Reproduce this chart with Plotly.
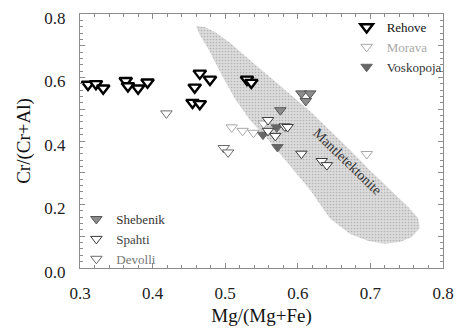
import plotly.graph_objects as go

# Mantle tectonite field outline, Mg/(Mg+Fe) vs Cr/(Cr+Al)
field_x = [0.460, 0.472, 0.486, 0.507, 0.534, 0.562, 0.589, 0.617, 0.644, 0.672, 0.699, 0.727,
           0.752, 0.766, 0.768, 0.757, 0.741, 0.720, 0.697, 0.672, 0.644, 0.617, 0.589, 0.562,
           0.534, 0.513, 0.493, 0.476, 0.465, 0.460]
field_y = [0.762, 0.759, 0.743, 0.709, 0.655, 0.602, 0.548, 0.494, 0.435, 0.372, 0.309, 0.246,
           0.192, 0.157, 0.126, 0.098, 0.082, 0.076, 0.085, 0.107, 0.157, 0.246, 0.324, 0.397,
           0.466, 0.535, 0.617, 0.693, 0.734, 0.762]

rehove_x = [0.311, 0.322, 0.332, 0.363, 0.366, 0.380, 0.393, 0.465, 0.479, 0.458, 0.455, 0.465, 0.530, 0.536]
rehove_y = [0.578, 0.580, 0.566, 0.590, 0.573, 0.566, 0.585, 0.613, 0.594, 0.569, 0.521, 0.517, 0.594, 0.584]

morava_x = [0.509, 0.524, 0.539, 0.553, 0.695]
morava_y = [0.443, 0.432, 0.426, 0.455, 0.359]

voskopoja_x = [0.552, 0.571, 0.572]
voskopoja_y = [0.420, 0.443, 0.381]

shebenik_x = [0.605, 0.617, 0.611, 0.576]
shebenik_y = [0.550, 0.550, 0.526, 0.497]

spahti_x = [0.559, 0.559, 0.569, 0.582, 0.586, 0.605, 0.633, 0.640]
spahti_y = [0.466, 0.432, 0.416, 0.446, 0.444, 0.360, 0.337, 0.324]

devolli_x = [0.419, 0.498, 0.504]
devolli_y = [0.487, 0.378, 0.364]

SERIF = "Liberation Serif, Times New Roman, DejaVu Serif, serif"

fig = go.Figure()

fig.add_trace(go.Scatter(
    x=field_x, y=field_y, mode="lines", fill="toself",
    line=dict(width=0, color="rgba(0,0,0,0)"),
    fillcolor="#d8d8d8",
    fillpattern=dict(shape=".", fgcolor="#8a8a8a", bgcolor="#dcdcdc", size=3, solidity=0.25),
    showlegend=False, hoverinfo="skip"))


def series(name, xs, ys, fill, edge, width, size, legend, tcolor):
    fig.add_trace(go.Scatter(
        x=xs, y=ys, mode="markers", legend=legend,
        name=f"<span style='color:{tcolor}'>{name}</span>",
        marker=dict(symbol="triangle-down", size=size, color=fill,
                    line=dict(color=edge, width=width))))


series("Rehove", rehove_x, rehove_y, "white", "#000000", 2.4, 11, "legend", "#111111")
series("Morava", morava_x, morava_y, "white", "#a8a8a8", 1, 10, "legend", "#a8a8a8")
series("Voskopoja", voskopoja_x, voskopoja_y, "#666666", "#666666", 1, 10, "legend", "#333333")
series("Shebenik", shebenik_x, shebenik_y, "#8c8c8c", "#555555", 1, 10, "legend2", "#333333")
series("Spahti", spahti_x, spahti_y, "white", "#3a3a3a", 1, 10, "legend2", "#444444")
series("Devolli", devolli_x, devolli_y, "white", "#6a6a6a", 1, 10, "legend2", "#777777")

fig.add_annotation(x=0.668, y=0.335, text="Mantletektonite", showarrow=False,
                   textangle=44, font=dict(family=SERIF, size=14, color="#333"))

tick_font = dict(family=SERIF, size=17, color="#222")
axis_common = dict(showgrid=False, zeroline=False, showline=True, linecolor="#8c8c8c",
                   linewidth=1, mirror="allticks", ticks="inside", ticklen=5,
                   tickcolor="#8c8c8c", tickfont=tick_font)

xt = [0.3, 0.4, 0.5, 0.6, 0.7, 0.8]
fig.update_xaxes(range=[0.3, 0.8], tickmode="array", tickvals=xt,
                 ticktext=[f"{v:.1f}" for v in xt], ticklabelstandoff=10,
                 minor=dict(dtick=0.02, ticks="inside", ticklen=3, tickcolor="#8c8c8c"),
                 title=dict(text="Mg/(Mg+Fe)", font=dict(family=SERIF, size=19, color="#111"),
                            standoff=6),
                 **axis_common)

yt = [0.0, 0.1, 0.2, 0.3, 0.4, 0.5, 0.6, 0.7, 0.8]
fig.update_yaxes(range=[0, 0.8], tickmode="array", tickvals=yt,
                 ticktext=[f"{v:.1f}" if round(v * 10) % 2 == 0 else "" for v in yt],
                 ticklabelstandoff=10, ticklabelshift=4,
                 minor=dict(dtick=0.02, ticks="inside", ticklen=3, tickcolor="#8c8c8c"),
                 title=dict(text="Cr/(Cr+Al)", font=dict(family=SERIF, size=19, color="#111"),
                            standoff=8),
                 **axis_common)

fig.update_layout(
    width=457, height=334,
    margin=dict(l=80, r=14, t=14, b=66, autoexpand=False),
    paper_bgcolor="white", plot_bgcolor="white",
    legend=dict(x=1.01, y=0.870, xanchor="right", yanchor="middle", bgcolor="rgba(0,0,0,0)",
                font=dict(family=SERIF, size=13, color="#222"), tracegroupgap=0,
                itemwidth=30),
    legend2=dict(x=-0.01, y=0.114, xanchor="left", yanchor="middle", bgcolor="rgba(0,0,0,0)",
                 font=dict(family=SERIF, size=13, color="#333"), tracegroupgap=0,
                 itemwidth=30),
)

fig.write_html("out.html")
